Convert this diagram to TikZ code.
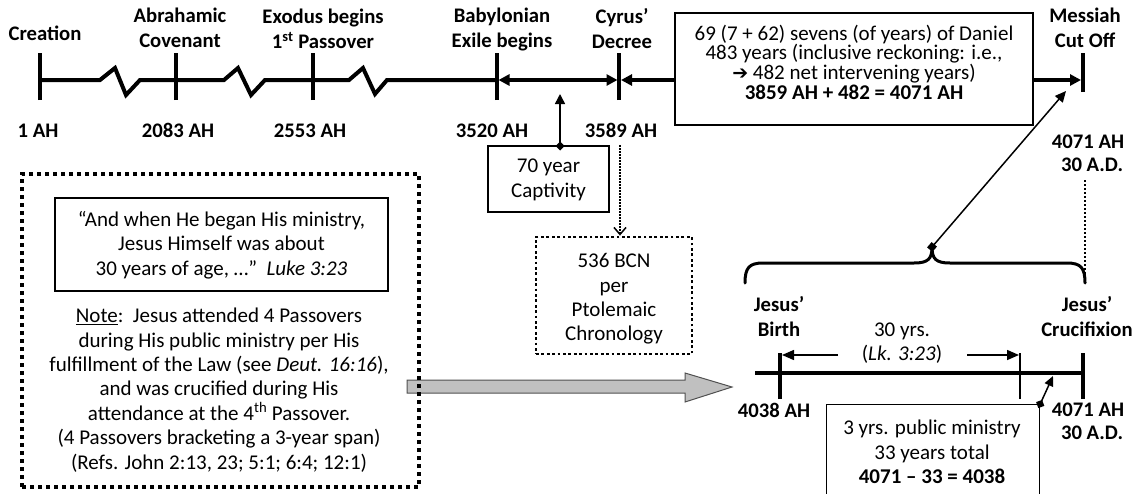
\documentclass[tikz,border=0pt]{standalone}
\usepackage{fontspec}
\setmainfont{Carlito}
\newfontfamily\djv{DejaVu Sans}
\usetikzlibrary{arrows.meta}
\begin{document}
\begin{tikzpicture}[x=1pt,y=-1pt,
  lbl/.style={font=\fontsize{20.7}{25}\selectfont\bfseries, align=center, inner sep=0pt},
  txt/.style={font=\fontsize{21}{24.4}\selectfont, align=center, inner sep=0pt},
  axis/.style={line width=4pt, line join=miter},
  tickmark/.style={line width=4pt},
  bigtip/.style={-{Triangle[length=11pt,width=11pt]}},
  thinbox/.style={draw, line width=1.2pt},
  dotbox/.style={draw, line width=2.8pt, dash pattern=on 2.8pt off 2.6pt},
  bigdot/.style={draw, line width=4pt, dash pattern=on 4pt off 4pt},
  conn/.style={line width=1.5pt}
]
\useasboundingbox (0,0) rectangle (1135,493);

% ---- top timeline coordinates
\coordinate (c0) at (40,80);
\coordinate (c1) at (176,80);
\coordinate (c2) at (313,80);
\coordinate (c3) at (497,80);
\coordinate (c4) at (619,80);
\coordinate (c5) at (1083,80);

\draw[axis] (c0) -- (100,80) -- (115,68) -- (126,95) -- (140,80) -- (c1)
  -- (224,80) -- (238,68) -- (251,95) -- (265,80) -- (c2)
  -- (349,80) -- (363,68) -- (375,94) -- (387,80) -- (c3);
\draw[axis, {Triangle[length=11pt,width=11pt]}-{Triangle[length=11pt,width=11pt]}, shorten <=1.5pt, shorten >=1.5pt] (c3) -- (c4);

\foreach \c in {c0,c1,c2,c3,c4}{
  \draw[tickmark] ([yshift=-20pt]\c) -- ([yshift=27pt]\c);
}
\draw[tickmark] ([yshift=-12pt]c5) -- ([yshift=27pt]c5);

% labels
\node[lbl] (lcre) at (45,33) {Creation};
\node[lbl] (labr) at (180,28) {Abrahamic\\Covenant};
\node[lbl] (lexo) at (323,29) {Exodus begins\\1\textsuperscript{st} Passover};
\node[lbl] (lbab) at (502,29) {Babylonian\\Exile begins};
\node[lbl] (lcyr) at (622,29) {Cyrus’\\Decree};
\node[lbl] (lmes) at (1085,28) {Messiah\\Cut Off};
\node[lbl, anchor=base] (y1) at (38,137) {1 AH};
\node[lbl, anchor=base] (y2) at (178,137) {2083 AH};
\node[lbl, anchor=base] (y3) at (310,137) {2553 AH};
\node[lbl, anchor=base] (y4) at (492,137) {3520 AH};
\node[lbl, anchor=base] (y5) at (621,137) {3589 AH};
\node[lbl, font=\fontsize{20.7}{23}\selectfont\bfseries] (y6) at (1088,153) {4071 AH\\\ \,30 A.D.};

% Daniel box
\node[thinbox, minimum width=358pt, minimum height=112pt, inner sep=0pt] (dan) at (854,69) {};
\node[font=\fontsize{21}{17.7}\selectfont, align=center, inner sep=0pt] (dantxt) at (854,62)
 {69 (7 + 62) sevens (of years) of Daniel\\483 years (inclusive reckoning: i.e.,\\{\djv\fontsize{19}{17}\selectfont\symbol{"2794}} 482 net intervening years)\\\textbf{3859 AH + 482 = 4071 AH}};
\draw[axis, bigtip] (dan.west |- c4) -- ([xshift=2pt]c4);
\draw[axis, bigtip] (dan.east |- c5) -- ([xshift=-2pt]c5);

% 70 year captivity
\node[thinbox, minimum width=121pt, minimum height=66pt, inner sep=0pt] (cap) at (548.5,179) {};
\node[txt, font=\fontsize{21}{25}\selectfont] (captxt) at (548.5,180) {70 year\\Captivity};
\coordinate (capt) at (560,146);
\coordinate (capend) at (560,94);
\draw[conn, {Diamond[length=9pt,width=9pt]}-{Triangle[length=10pt,width=10pt]}, shorten <=-4.5pt] (capt) -- (capend);

% 536 BCN box
\node[dotbox, minimum width=156pt, minimum height=117pt, inner sep=0pt] (bcn) at (614,295.5) {};
\node[txt] (bcntxt) at (614,299) {536 BCN\\per\\Ptolemaic\\Chronology};
\coordinate (dotstart) at (620,145);
\draw[line width=1.5pt, dash pattern=on 1.5pt off 1.5pt, -{Straight Barb[length=7pt,width=12pt]}] (dotstart) -- (bcn.north -| dotstart);

% gray block arrow
\draw[fill={rgb,255:red,192;green,192;blue,192}, draw={rgb,255:red,80;green,80;blue,80}, line width=1pt]
  (407,380) -- (685,380) -- (685,373) -- (732,387) -- (685,402) -- (685,393) -- (407,393) -- cycle;

% left big dotted box
\node[bigdot, minimum width=397pt, minimum height=313pt, inner sep=0pt] (left) at (220.5,330.5) {};
\node[thinbox, minimum width=333pt, minimum height=93pt, inner sep=0pt] (quote) at (221.5,244.5) {};
\node[txt] (quotetxt) at (221.5,245) {“And when He began His ministry,\\Jesus Himself was about\\30 years of age, …” \ \textit{Luke 3:23}};
\node[txt] (note) at (219,390) {\underline{Note}:\ \ Jesus attended 4 Passovers\\during His public ministry per His\\fulfillment of the Law (see \textit{Deut. 16:16}),\\and was crucified during His\\attendance at the 4\textsuperscript{th} Passover.\\(4 Passovers bracketing a 3-year span)\\(Refs. John 2:13, 23; 5:1; 6:4; 12:1)};

% bottom timeline
\coordinate (b0) at (755,373);
\coordinate (bb) at (780,373);
\coordinate (bm) at (1020,373);
\coordinate (bc) at (1083,373);
\draw[axis] (b0) -- (1085,373);
\draw[tickmark] ([yshift=-26pt]bb) -- ([yshift=20pt]bb);
\draw[tickmark] ([yshift=-26pt]bc) -- ([yshift=20pt]bc);
\draw[line width=1.3pt] ([yshift=-26pt]bm) -- ([yshift=20pt]bm);

\coordinate (dl) at (838,355);
\coordinate (dr) at (967,355);
\draw[conn, -{Triangle[length=12pt,width=10pt]}] (dl) -- ([xshift=2pt]bb |- dl);
\draw[conn, -{Triangle[length=12pt,width=10pt]}] (dr) -- ([xshift=-1pt]bm |- dr);
\node[txt] (thirty) at (902,343) {30 yrs.\\(\textit{Lk. 3:23})};

\node[lbl] (jb) at (779,317) {Jesus’\\Birth};
\node[lbl] (jc) at (1087,317) {Jesus’\\Crucifixion};
\node[lbl] (y7) at (774,410) {4038 AH};
\node[lbl, font=\fontsize{20.7}{23}\selectfont\bfseries] (y8) at (1088,421) {4071 AH\\\ \,30 A.D.};

% brace
\coordinate (brtip) at (932,247);
\draw[line width=3pt, line cap=round] (745,283) .. controls (745,268) and (749,263) .. (763,263) -- (914,263)
  .. controls (928,263) and (932,259) .. (brtip)
  .. controls (932,259) and (936,263) .. (950,263) -- (1067,263)
  .. controls (1081,263) and (1085,268) .. (1085,283);
\coordinate (mesarrow) at (1066,91);
\draw[conn, {Square[length=7pt,width=7pt]}-{Triangle[length=11pt,width=10pt]}, shorten <=-3.5pt] (brtip) -- (mesarrow);
\coordinate (dtop) at (1085,180);
\coordinate (dbot) at (1085,280);
\draw[line width=2pt, dash pattern=on 2pt off 2pt] (dtop) -- (dbot);

% 3 yrs box
\begin{scope}
\clip (0,0) rectangle (1135,493);
\node[thinbox, minimum width=213pt, minimum height=100pt, inner sep=0pt, anchor=north west] (min) at (826,404) {};
\end{scope}
\node[txt] (mintxt) at (932,452) {3 yrs. public ministry\\33 years total\\\textbf{4071 – 33 = 4038}};
\coordinate (mintip) at (1053,376);
\draw[conn, {Diamond[length=9pt,width=9pt]}-{Triangle[length=10pt,width=9pt]}, shorten <=-4.5pt] (min.north east) -- (mintip);
\end{tikzpicture}
\end{document}
